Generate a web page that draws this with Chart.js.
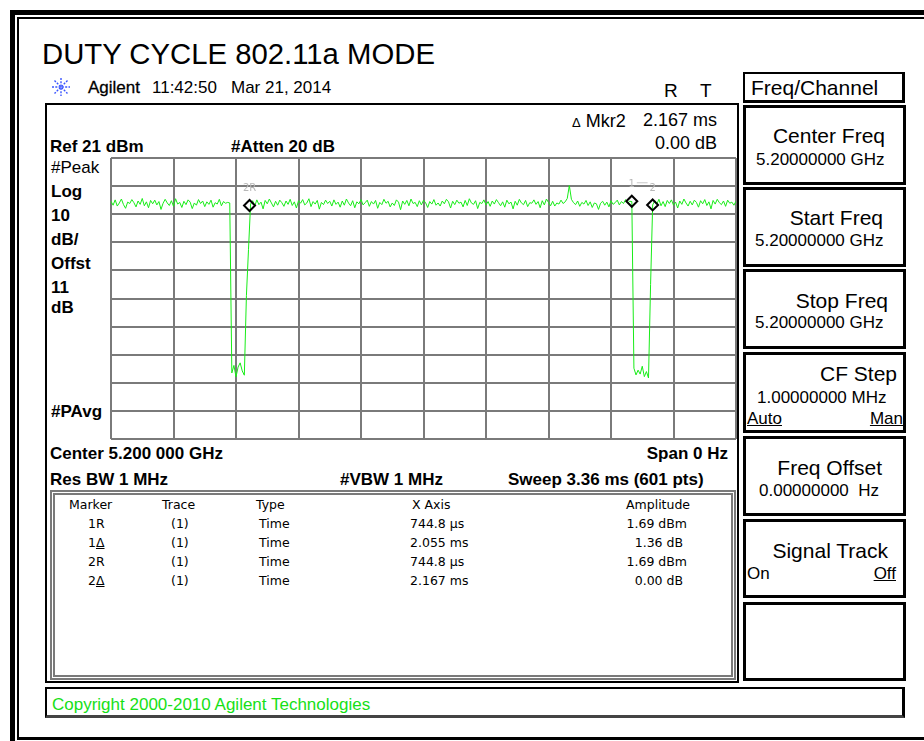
<!DOCTYPE html>
<html>
<head>
<meta charset="utf-8">
<script src="https://cdn.jsdelivr.net/npm/chart.js@4.4.1/dist/chart.umd.min.js"></script>
<style>
  html, body { margin: 0; padding: 0; background: #fff; }
  body { width: 924px; height: 741px; position: relative; overflow: hidden; font-family: "Liberation Sans", Arial, sans-serif; color: #000; }
  .abs { position: absolute; white-space: pre; line-height: 1; }
  .b { font-weight: bold; font-size: 17px; }
  .r17 { font-size: 17px; }
  .tbl { font-family: "DejaVu Sans", sans-serif; font-size: 12.5px; }
  .btn { position: absolute; left: 743px; width: 157px; border: 3px solid #000; background: #fff; }
  .bt { font-size: 21px; }
  .bv { font-size: 17px; }
  u { text-decoration: underline; }
</style>
</head>
<body>
<!-- screen frame -->
<div style="position:absolute;left:10px;top:10px;width:930px;height:740px;border-left:5px solid #000;border-top:5px solid #000;"></div>
<div style="position:absolute;left:17px;top:17px;width:920px;height:718px;border-left:2px solid #000;border-top:2px solid #000;border-bottom:3px solid #000;"></div>

<div class="abs" style="left:42px;top:39px;font-size:29.3px;">DUTY CYCLE 802.11a MODE</div>

<svg style="position:absolute;left:51px;top:77px" width="20" height="20" viewBox="0 0 20 20">
  <g stroke="#3a55ff" stroke-width="1.4" stroke-dasharray="2 1.3">
    <line x1="10" y1="1" x2="10" y2="19"/><line x1="1" y1="10" x2="19" y2="10"/>
    <line x1="3.5" y1="3.5" x2="16.5" y2="16.5"/><line x1="16.5" y1="3.5" x2="3.5" y2="16.5"/>
  </g>
</svg>
<div class="abs r17" style="left:88px;top:79px;-webkit-text-stroke:0.3px #000;">Agilent</div>
<div class="abs r17" style="left:152px;top:79px;">11:42:50</div>
<div class="abs r17" style="left:231px;top:79px;">Mar 21, 2014</div>
<div class="abs" style="left:664px;top:81px;font-size:19px;">R</div>
<div class="abs" style="left:700px;top:81px;font-size:19px;">T</div>

<!-- graph panel -->
<div style="position:absolute;left:45px;top:103px;width:690px;height:576px;border:2px solid #000;"></div>
<div class="abs b" style="left:50px;top:138px;">Ref 21 dBm</div>
<div class="abs b" style="left:231px;top:138px;">#Atten 20 dB</div>
<div class="abs" style="left:572px;top:112px;font-size:18px;"><span style="font-size:13px">Δ</span> Mkr2</div>
<div class="abs" style="right:207px;top:111px;font-size:18px;">2.167 ms</div>
<div class="abs" style="right:207px;top:134px;font-size:18px;">0.00 dB</div>

<div class="abs r17" style="left:51px;top:159px;">#Peak</div>
<div class="abs b" style="left:51px;top:183px;">Log</div>
<div class="abs b" style="left:51px;top:207px;">10</div>
<div class="abs b" style="left:51px;top:231px;">dB/</div>
<div class="abs b" style="left:51px;top:255px;">Offst</div>
<div class="abs b" style="left:51px;top:279px;">11</div>
<div class="abs b" style="left:51px;top:299px;">dB</div>
<div class="abs b" style="left:51px;top:403px;">#PAvg</div>

<div style="position:absolute;left:109px;top:156px;width:629px;height:285px;">
  <canvas id="trace" width="629" height="285"></canvas>
</div>

<div class="abs b" style="left:50px;top:445px;">Center 5.200 000 GHz</div>
<div class="abs b" style="right:196px;top:445px;">Span 0 Hz</div>
<div class="abs b" style="left:50px;top:471px;">Res BW 1 MHz</div>
<div class="abs b" style="left:340px;top:471px;">#VBW 1 MHz</div>
<div class="abs b" style="left:508px;top:471px;">Sweep 3.36 ms (601 pts)</div>

<!-- marker table -->
<div style="position:absolute;left:50px;top:490px;width:676px;height:180px;border:5px double #7a7a7a;"></div>
<div id="table"></div>

<!-- softkeys -->
<div class="btn" style="top:72px;height:26px;border-width:2px 3px 3px 2px;"></div>
<div class="abs" style="left:751px;top:77px;font-size:21px;">Freq/Channel</div>

<div class="btn" style="top:105px;height:74px;"></div>
<div class="abs bt" style="right:39px;top:125px;">Center Freq</div>
<div class="abs bv" style="left:756px;top:151px;">5.20000000 GHz</div>

<div class="btn" style="top:187px;height:74px;"></div>
<div class="abs bt" style="right:41px;top:207px;">Start Freq</div>
<div class="abs bv" style="left:755px;top:232px;">5.20000000 GHz</div>

<div class="btn" style="top:269px;height:74px;"></div>
<div class="abs bt" style="right:36px;top:290px;">Stop Freq</div>
<div class="abs bv" style="left:755px;top:314px;">5.20000000 GHz</div>

<div class="btn" style="top:352px;height:75px;"></div>
<div class="abs bt" style="right:27px;top:363px;">CF Step</div>
<div class="abs bv" style="left:757px;top:389px;">1.00000000 MHz</div>
<div class="abs bv" style="left:747px;top:410px;"><u>Auto</u></div>
<div class="abs bv" style="right:21px;top:410px;"><u>Man</u></div>

<div class="btn" style="top:436px;height:74px;"></div>
<div class="abs bt" style="right:42px;top:457px;">Freq Offset</div>
<div class="abs bv" style="left:759px;top:482px;">0.00000000  Hz</div>

<div class="btn" style="top:519px;height:73px;"></div>
<div class="abs bt" style="right:36px;top:540px;">Signal Track</div>
<div class="abs bv" style="left:747px;top:565px;">On</div>
<div class="abs bv" style="right:28px;top:565px;"><u>Off</u></div>

<div class="btn" style="top:602px;height:73px;"></div>

<div style="position:absolute;left:45px;top:687px;width:855px;height:26px;border:2px solid #000;border-right-width:3px;border-bottom:3px solid #444;"></div>
<div class="abs r17" style="left:52px;top:696px;color:#16e016;">Copyright 2000-2010 Agilent Technologies</div>

<script>
// sweep: 0 .. 3.36 ms, trace read every 2nd of the 601 points
const sweepUs = 3360;
const stepUs = sweepUs / 300;
const traceDbm = [
  // 0-19
  5.6, 4.2, 6.1, 3.9, 5.0, 6.4, 4.4, 3.1, 5.3, 4.8, 6.2, 5.1, 3.6, 5.7, 4.5, 6.6, 4.0, 5.4, 3.3, 5.9,
  // 20-39
  4.7, 6.0, 4.3, 5.5, 2.7, 4.9, 6.3, 5.0, 4.1, 5.8, 3.8, 6.5, 4.6, 5.2, 3.4, 5.6, 4.4, 6.1, 5.3, 3.0,
  // 40-57
  5.0, 4.2, 6.2, 4.8, 5.7, 3.7, 5.4, 4.5, 6.0, 3.5, 5.1, 4.6, 6.3, 4.0, 5.5, 4.9, 5.2, 5.0,
  // 58-66 first off period
  -55.5, -52.8, -56.9, -53.4, -51.9, -54.8, -56.3, -28.0, -11.5,
  // 67-86
  4.6, 5.8, 3.9, 6.1, 4.4, 5.3, 2.9, 5.9, 4.7, 6.4, 5.0, 3.6, 5.6, 4.2, 6.0, 5.1, 3.8, 5.7, 4.5, 6.3,
  // 87-106
  4.1, 5.4, 3.2, 5.8, 4.9, 6.2, 4.3, 5.0, 6.5, 3.7, 5.5, 4.6, 5.9, 2.8, 5.2, 4.4, 6.0, 4.8, 5.6, 3.9,
  // 107-126
  6.1, 4.5, 5.3, 3.5, 5.7, 4.2, 6.4, 5.0, 4.0, 5.8, 3.3, 5.4, 4.7, 6.2, 4.3, 5.1, 6.0, 3.8, 5.5, 4.6,
  // 127-146
  5.9, 3.1, 5.2, 4.4, 6.3, 4.9, 5.6, 3.6, 5.0, 4.1, 6.1, 5.3, 2.6, 5.7, 4.5, 5.9, 4.0, 6.4, 4.8, 5.2,
  // 147-166
  3.7, 5.8, 4.3, 6.0, 5.1, 3.4, 5.5, 4.6, 6.2, 4.2, 5.0, 3.9, 5.7, 4.7, 6.3, 5.4, 3.2, 5.6, 4.4, 6.0,
  // 167-186
  4.9, 5.3, 3.6, 5.9, 4.1, 6.5, 5.0, 4.5, 5.8, 3.0, 5.2, 4.8, 6.1, 4.3, 5.5, 3.8, 5.7, 4.6, 6.2, 5.1,
  // 187-206
  4.0, 5.4, 3.5, 6.0, 4.7, 5.3, 2.9, 5.6, 4.2, 6.3, 5.0, 4.4, 5.9, 3.7, 5.1, 4.9, 6.1, 4.5, 5.5, 3.3,
  // 207-220 (spike at 220)
  5.8, 4.3, 6.4, 5.2, 4.0, 5.6, 3.9, 5.0, 4.6, 6.0, 4.8, 5.4, 6.6, 11.2,
  // 221-250
  6.3, 5.1, 4.4, 5.7, 3.8, 5.2, 4.6, 5.9, 4.1, 5.4, 3.4, 5.0, 4.7, 2.7, 4.9, 5.6, 4.2, 5.3, 3.6, 5.8,
  4.5, 5.1, 6.0, 4.3, 5.5, 4.8, 6.2, 5.0, 5.6, 5.5,
  // 251-259 second off period
  -53.8, -56.2, -54.5, -55.9, -53.1, -56.8, -55.0, -57.3, -24.0,
  // 260-300
  4.3, 5.8, 4.6, 6.3, 4.0, 5.5, 3.7, 5.9, 4.8, 6.1, 4.2, 5.3, 3.2, 5.7, 4.5, 6.4, 5.0, 3.9, 5.6, 4.3,
  6.0, 5.2, 3.5, 5.8, 4.7, 6.2, 4.1, 5.4, 2.9, 5.9, 4.6, 6.3, 5.1, 4.4, 5.7, 3.8, 6.0, 4.9, 5.3, 4.2, 5.6
];

// graticule: 10 div x 0.336 ms, 10 div x 10 dB from Ref 21 dBm
const xGridUs = [0, 336, 672, 1008, 1344, 1680, 2016, 2352, 2688, 3024, 3360];
const yGridDbm = [21, 11, 1, -9, -19, -29, -39, -49, -59, -69, -79];

const markerNames = ['2R', '1', '2'];
const markerUs = [744.8, 2799.8, 2911.8];
const markerDbm = [4.1, 5.6, 4.3];

// marker table
const tblHead = ['Marker', 'Trace', 'Type', 'X Axis', 'Amplitude'];
const tblMarker = ['1R', '1<u>Δ</u>', '2R', '2<u>Δ</u>'];
const tblTrace = ['(1)', '(1)', '(1)', '(1)'];
const tblType = ['Time', 'Time', 'Time', 'Time'];
const tblX = ['744.8 µs', '2.055 ms', '744.8 µs', '2.167 ms'];
const tblAmp = ['1.69 dBm', '1.36 dB ', '1.69 dBm', '0.00 dB '];

function cell(html, style) {
  return '<div class="abs tbl" style="' + style + '">' + html + '</div>';
}
let tableHtml = '';
const headY = 499;
tableHtml += cell(tblHead[0], 'left:69px;top:' + headY + 'px;');
tableHtml += cell(tblHead[1], 'left:162px;top:' + headY + 'px;');
tableHtml += cell(tblHead[2], 'left:256px;top:' + headY + 'px;');
tableHtml += cell(tblHead[3], 'left:412px;top:' + headY + 'px;');
tableHtml += cell(tblHead[4], 'left:626px;top:' + headY + 'px;');
tblMarker.forEach((m, i) => {
  const top = headY + 19 * (i + 1);
  tableHtml += cell(m, 'left:88px;top:' + top + 'px;');
  tableHtml += cell(tblTrace[i], 'left:171px;top:' + top + 'px;');
  tableHtml += cell(tblType[i], 'left:259px;top:' + top + 'px;');
  tableHtml += cell(tblX[i], 'left:410px;top:' + top + 'px;');
  tableHtml += cell(tblAmp[i], 'right:237px;top:' + top + 'px;');
});
document.getElementById('table').innerHTML = tableHtml;

// grey marker numbers above the diamonds
const markerLabels = {
  id: 'markerLabels',
  afterDatasetsDraw(chart) {
    const { ctx, scales: { x, y } } = chart;
    const px = markerUs.map(v => x.getPixelForValue(v));
    const py = markerDbm.map(v => y.getPixelForValue(v));
    ctx.save();
    ctx.font = '10px "DejaVu Sans"';
    ctx.fillStyle = '#b8b8b8';
    ctx.textAlign = 'center';
    ctx.textBaseline = 'middle';
    markerNames.forEach((n, i) => ctx.fillText(n, px[i], py[i] - 17));
    ctx.strokeStyle = '#c8c8c8';
    ctx.lineWidth = 1;
    ctx.beginPath();
    ctx.moveTo(px[1] + 5, py[1] - 18.5);
    ctx.lineTo(px[2] - 5, py[1] - 18.5);
    ctx.stroke();
    ctx.restore();
  }
};

const gridOpts = { color: '#7a7a7a', lineWidth: 2, drawTicks: false };

new Chart(document.getElementById('trace'), {
  type: 'line',
  data: {
    datasets: [{
      type: 'scatter',
      order: 0,
      data: markerUs.map((t, i) => ({ x: t, y: markerDbm[i] })),
      pointStyle: 'rectRot',
      pointRadius: 5.5,
      borderColor: '#000',
      borderWidth: 2,
      backgroundColor: 'rgba(255,255,255,0)'
    }, {
      order: 1,
      data: traceDbm.map((v, i) => ({ x: i * stepUs, y: v })),
      borderColor: '#18ec18',
      borderWidth: 1,
      pointRadius: 0,
      tension: 0,
      fill: false
    }]
  },
  options: {
    responsive: false,
    animation: false,
    devicePixelRatio: 1,
    layout: { padding: 2, autoPadding: false },
    plugins: { legend: { display: false }, tooltip: { enabled: false } },
    scales: {
      x: {
        type: 'linear', min: 0, max: sweepUs,
        afterBuildTicks: s => { s.ticks = xGridUs.map(v => ({ value: v })); },
        ticks: { display: false },
        grid: gridOpts,
        border: { display: false }
      },
      y: {
        type: 'linear', min: -79, max: 21,
        afterBuildTicks: s => { s.ticks = yGridDbm.map(v => ({ value: v })); },
        ticks: { display: false },
        grid: gridOpts,
        border: { display: false }
      }
    }
  },
  plugins: [markerLabels]
});
</script>
</body>
</html>
